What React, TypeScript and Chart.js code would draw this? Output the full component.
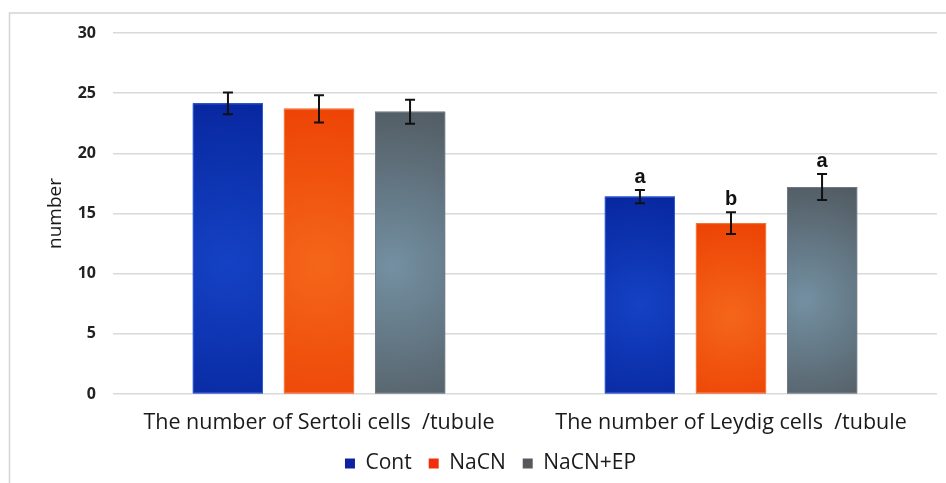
import React, { useEffect, useRef } from "react";
import { Chart, registerables } from "chart.js";

Chart.register(...registerables);

// Category labels and tick values
const categories = [
  "The number of Sertoli cells  /tubule",
  "The number of Leydig cells  /tubule",
];
const yTicks = [0, 5, 10, 15, 20, 25, 30];

// Group means
const cont = [24.15, 16.4];
const nacn = [23.7, 14.2];
const nacnEp = [23.45, 17.2];

// Standard errors
const contErr = [0.9, 0.55];
const nacnErr = [1.13, 0.9];
const nacnEpErr = [1.0, 1.08];

// Significance letters (per category, per series)
const contSig = ["", "a"];
const nacnSig = ["", "b"];
const nacnEpSig = ["", "a"];

const seriesNames = ["Cont", "NaCN", "NaCN+EP"];
const solidColors = ["#0c22a0", "#f0300c", "#55595e"];
// inner / outer colours for the shaded bar fill
const shade = [
  { inner: "#1442c4", outer: "#06239a", border: "#2c5ad6" },
  { inner: "#f4661a", outer: "#ec3e02", border: "#f47a3c" },
  { inner: "#7390a2", outer: "#4e555b", border: "#6e7a84" },
];

const errors = [contErr, nacnErr, nacnEpErr];
const sigs = [contSig, nacnSig, nacnEpSig];

const framePlugin = {
  id: "frame",
  beforeDraw(chart: any) {
    const { ctx, width, height } = chart;
    ctx.save();
    ctx.fillStyle = "#ffffff";
    ctx.fillRect(0, 0, width, height);
    ctx.strokeStyle = "#d4d4d4";
    ctx.lineWidth = 1.5;
    ctx.beginPath();
    ctx.moveTo(width + 2, 13);
    ctx.lineTo(9.5, 13);
    ctx.lineTo(9.5, height + 2);
    ctx.stroke();
    ctx.restore();
  },
};

const barDecorPlugin = {
  id: "barDecor",
  afterDatasetsDraw(chart: any) {
    const { ctx } = chart;
    const yScale = chart.scales.y;
    ctx.save();
    chart.data.datasets.forEach((ds: any, di: number) => {
      const meta = chart.getDatasetMeta(di);
      meta.data.forEach((bar: any, i: number) => {
        const { x, y, base, width } = bar.getProps(["x", "y", "base", "width"], true);
        const left = x - width / 2;
        const h = base - y;
        const s = shade[di];
        const cx = di === 2 ? x - width * 0.25 : x;
        const g = ctx.createRadialGradient(cx, y + h * 0.55, 0, cx, y + h * 0.55, Math.max(width, h) * 0.65);
        g.addColorStop(0, s.inner);
        g.addColorStop(1, s.outer);
        ctx.fillStyle = g;
        ctx.fillRect(left, y, width, h);
        ctx.strokeStyle = s.border;
        ctx.lineWidth = 1;
        ctx.strokeRect(left + 0.5, y + 0.5, width - 1, h - 1);

        // error bar
        const v = ds.data[i];
        const e = errors[di][i];
        const yTop = yScale.getPixelForValue(v + e);
        const yBot = yScale.getPixelForValue(v - e);
        ctx.strokeStyle = "#111111";
        ctx.lineWidth = 2;
        ctx.beginPath();
        ctx.moveTo(x, yTop);
        ctx.lineTo(x, yBot);
        ctx.moveTo(x - 5, yTop);
        ctx.lineTo(x + 5, yTop);
        ctx.moveTo(x - 5, yBot);
        ctx.lineTo(x + 5, yBot);
        ctx.stroke();

        // significance letter
        const letter = sigs[di][i];
        if (letter) {
          ctx.fillStyle = "#111111";
          ctx.font = "bold 20px 'Liberation Sans', Arial, sans-serif";
          ctx.textAlign = "center";
          ctx.textBaseline = "alphabetic";
          ctx.fillText(letter, x, yTop - 7);
        }
      });
    });
    ctx.restore();
  },
};

export default function App() {
  const canvasRef = useRef<HTMLCanvasElement | null>(null);

  useEffect(() => {
    if (!canvasRef.current) return;
    const values = [cont, nacn, nacnEp];
    const chart = new Chart(canvasRef.current, {
      type: "bar",
      data: {
        labels: categories,
        datasets: values.map((d, k) => ({
          label: seriesNames[k],
          data: d,
          backgroundColor: solidColors[k],
          borderWidth: 0,
          categoryPercentage: 0.663,
          barPercentage: 0.77,
        })),
      },
      options: {
        responsive: false,
        animation: false,
        layout: { padding: { top: 33, left: 44, right: 9, bottom: -1 } },
        plugins: {
          tooltip: { enabled: false },
          legend: {
            position: "bottom",
            labels: {
              boxWidth: 10,
              boxHeight: 10,
              padding: 17,
              color: "#1a1a1a",
              font: { family: "'Open Sans', sans-serif", size: 21 },
            },
          },
        },
        scales: {
          x: {
            grid: { display: false, drawTicks: false },
            border: { display: false },
            ticks: {
              padding: 16,
              color: "#1a1a1a",
              font: { family: "'Open Sans', sans-serif", size: 21.5 },
              maxRotation: 0,
            },
            afterFit(scale: any) {
              scale.height = 42;
            },
          },
          y: {
            min: 0,
            max: 30,
            afterBuildTicks(scale: any) {
              scale.ticks = yTicks.map((v) => ({ value: v }));
            },
            grid: { color: "#d9d9d9", lineWidth: 1.5, drawTicks: false },
            border: { display: false },
            ticks: {
              padding: 17,
              color: "#222222",
              font: { family: "'Open Sans', sans-serif", size: 16, weight: "bold" },
            },
            title: {
              display: true,
              text: "number",
              color: "#1a1a1a",
              padding: { top: 0, bottom: 0 },
              font: { family: "'Open Sans', sans-serif", size: 19 },
            },
            afterFit(scale: any) {
              scale.width = 69;
            },
          },
        },
      },
      plugins: [framePlugin, barDecorPlugin],
    });
    return () => chart.destroy();
  }, []);

  return (
    <div style={{ position: "fixed", left: 0, top: 0, width: 946, height: 483 }}>
      <canvas ref={canvasRef} width={946} height={483} style={{ display: "block" }} />
    </div>
  );
}
